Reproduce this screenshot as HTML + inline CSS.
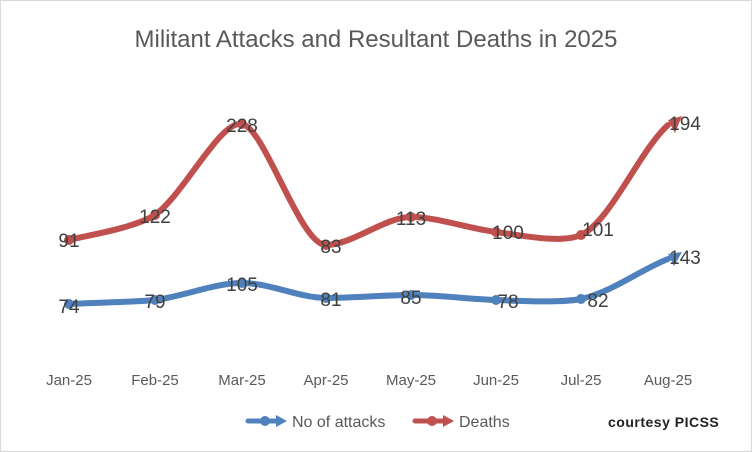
<!DOCTYPE html>
<html><head><style>body{margin:0;background:#fff}svg{display:block}</style></head><body>
<svg width="752" height="452" viewBox="0 0 752 452" xmlns="http://www.w3.org/2000/svg" font-family="Liberation Sans, sans-serif">
<rect x="0.5" y="0.5" width="751" height="451" fill="#fff" stroke="#d9d9d9"/>
<text x="376" y="47" text-anchor="middle" font-size="24" fill="#595959">Militant Attacks and Resultant Deaths in 2025</text>
<path d="M69,240 C83,236 132,229 155,215 C185,193 220,120 242,124 C265,128 300,245 326,245 C352,245 385,217 411,217 C437,217 470,229 496,232 C520,235 560,244 581,235 C610,222 640,150 668,125" fill="none" stroke="#c0504d" stroke-width="6" stroke-linecap="round"/>
<path d="M69,304 C90,303 135,302 155,300 C185,296 215,283 242,283 C270,283 300,298 326,298 C352,298 385,295 411,295 C437,295 470,299 496,300 C520,301 560,303 581,299 C612,292 640,270 668,259" fill="none" stroke="#4f81bd" stroke-width="6" stroke-linecap="round"/>
<g fill="#c0504d"><circle cx="69" cy="240" r="5"/><circle cx="155" cy="215" r="5"/><circle cx="242" cy="124" r="5"/><circle cx="326" cy="245" r="5"/><circle cx="411" cy="217" r="5"/><circle cx="496" cy="232" r="5"/><circle cx="581" cy="235" r="5"/><polygon points="682,116 668,120 675,133"/></g>
<g fill="#4f81bd"><circle cx="69" cy="304" r="5"/><circle cx="155" cy="300" r="5"/><circle cx="242" cy="283" r="5"/><circle cx="326" cy="298" r="5"/><circle cx="411" cy="295" r="5"/><circle cx="496" cy="300" r="5"/><circle cx="581" cy="299" r="5"/><polygon points="682,252 668,254 674,266"/></g>
<g font-size="19" fill="#404040" text-anchor="middle">
<text x="69" y="247">91</text><text x="155" y="223">122</text><text x="242" y="132">228</text><text x="331" y="253">83</text><text x="411" y="225">113</text><text x="508" y="239">100</text><text x="598" y="236">101</text><text x="685" y="130">194</text>
<text x="69" y="313">74</text><text x="155" y="308">79</text><text x="242" y="291">105</text><text x="331" y="306">81</text><text x="411" y="304">85</text><text x="508" y="308">78</text><text x="598" y="307">82</text><text x="685" y="264">143</text>
</g>
<g font-size="15" fill="#595959" text-anchor="middle">
<text x="69" y="385">Jan-25</text><text x="155" y="385">Feb-25</text><text x="242" y="385">Mar-25</text><text x="326" y="385">Apr-25</text><text x="411" y="385">May-25</text><text x="496" y="385">Jun-25</text><text x="581" y="385">Jul-25</text><text x="668" y="385">Aug-25</text>
</g>
<line x1="248" y1="421" x2="280" y2="421" stroke="#4f81bd" stroke-width="5" stroke-linecap="round"/><circle cx="265" cy="421" r="5" fill="#4f81bd"/><polygon points="287,421 276,415 276,427" fill="#4f81bd"/>
<text x="292" y="427" font-size="16" fill="#595959">No of attacks</text>
<line x1="415" y1="421" x2="447" y2="421" stroke="#c0504d" stroke-width="5" stroke-linecap="round"/><circle cx="432" cy="421" r="5" fill="#c0504d"/><polygon points="454,421 443,415 443,427" fill="#c0504d"/>
<text x="459" y="427" font-size="16" fill="#595959">Deaths</text>
<text x="608" y="427" font-size="14" font-weight="bold" fill="#222" letter-spacing="0.5">courtesy PICSS</text>
</svg>
</body></html>
